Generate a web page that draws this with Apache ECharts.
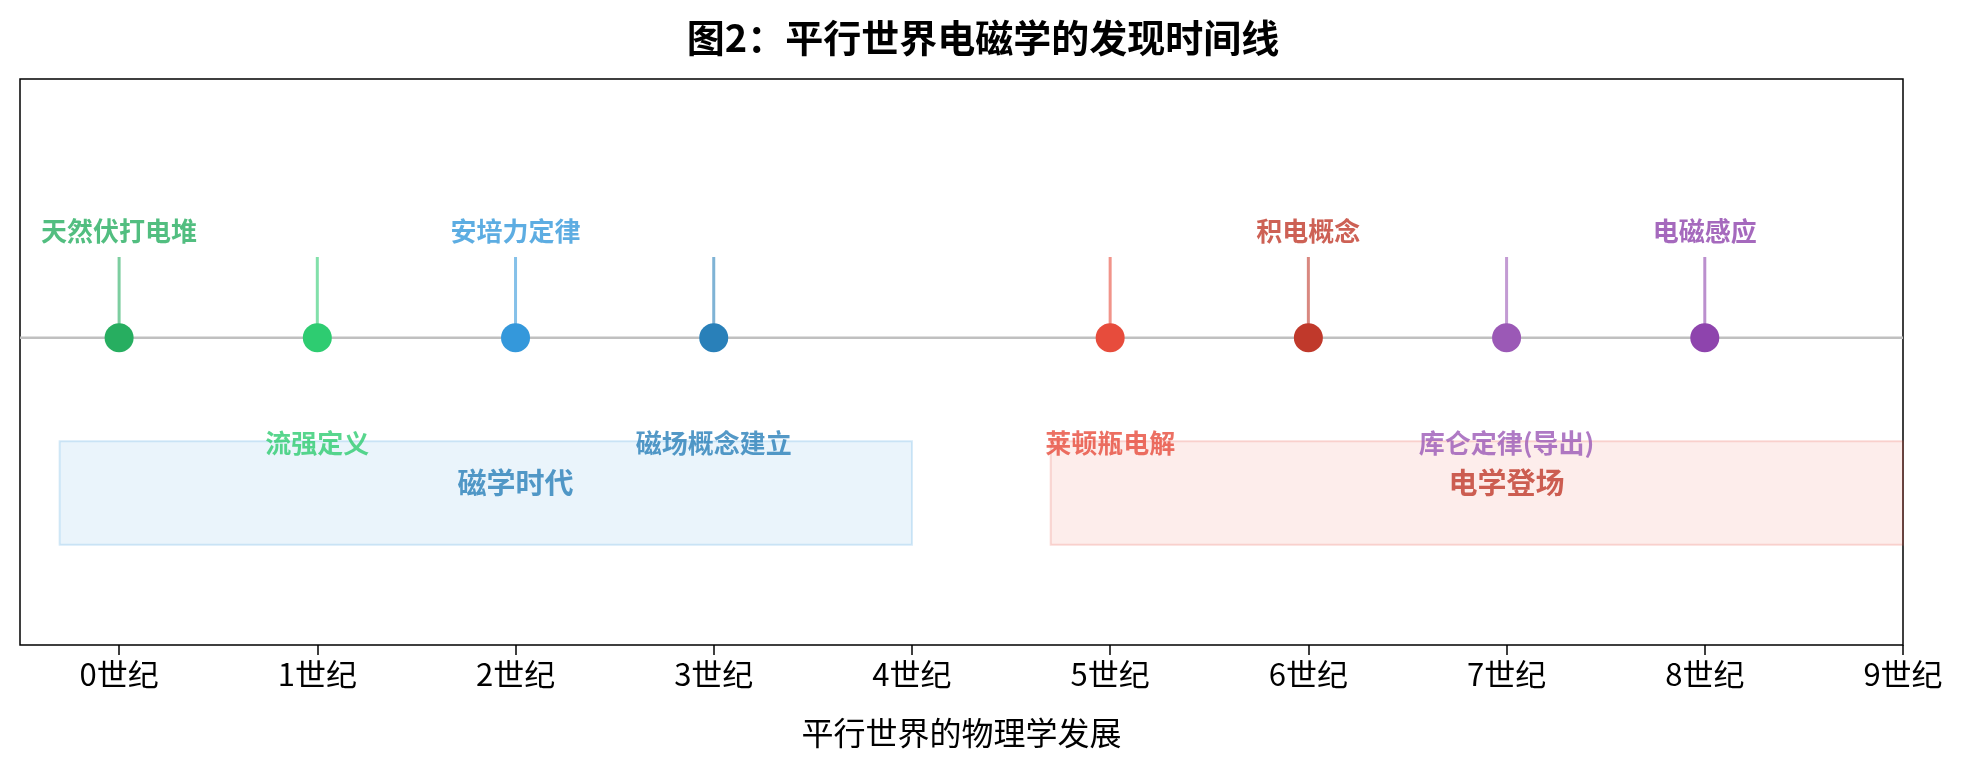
<!DOCTYPE html>
<html><head><meta charset="utf-8">
<script src="https://cdn.jsdelivr.net/npm/echarts@6/dist/echarts.min.js"></script>
<style>html,body{margin:0;background:#fff}#c{width:1966px;height:764px}</style>
</head><body><div id="c"></div>
<script>
const eventX = [0, 1, 2, 3, 5, 6, 7, 8];
const eventNames = ['天然伏打电堆', '流强定义', '安培力定律', '磁场概念建立', '莱顿瓶电解', '积电概念', '库仑定律(导出)', '电磁感应'];
const eventColors = ['#27ae60', '#2ecc71', '#3498db', '#2980b9', '#e74c3c', '#c0392b', '#9b59b6', '#8e44ad'];
const labelUp = [true, false, true, false, false, true, false, true];
const tickValues = [0, 1, 2, 3, 4, 5, 6, 7, 8, 9];
const eras = [
  { name: '磁学时代', from: -0.3, to: 4.0, fill: 'rgba(52,152,219,0.1)', border: 'rgba(52,152,219,0.2)', text: '#2980b9' },
  { name: '电学登场', from: 4.7, to: 9.0, fill: 'rgba(231,76,60,0.1)', border: 'rgba(231,76,60,0.2)', text: '#c0392b' }
];
const stemTop = 0.5, labelUpY = 0.66, labelDownY = -0.65, eraTop = -0.64, eraBottom = -1.28, eraLabelY = -0.9;

const font = '"Noto Sans CJK SC", "Noto Sans", sans-serif';
const chart = echarts.init(document.getElementById('c'));
chart.setOption({
  animation: false,
  title: { text: '图2：平行世界电磁学的发现时间线', left: 'center', top: 14,
    textStyle: { fontFamily: font, fontSize: 38, fontWeight: 'bold', color: '#000' } },
  grid: { left: 20, right: 63, top: 79, bottom: 119, show: true, borderColor: '#000', borderWidth: 1.5 },
  xAxis: { type: 'value', min: -0.5, max: 9, interval: 1,
    name: '平行世界的物理学发展', nameLocation: 'middle', nameGap: 72,
    nameTextStyle: { fontFamily: font, fontSize: 32, color: '#000' },
    axisLine: { show: false, onZero: false }, splitLine: { show: false },
    axisTick: { show: true, inside: false, length: 10, lineStyle: { color: '#000', width: 1.5 },
      customValues: tickValues },
    axisLabel: { fontFamily: font, fontSize: 31, color: '#000', margin: 14,
      customValues: tickValues, formatter: v => v + '世纪' } },
  yAxis: { type: 'value', min: -1.9, max: 1.6, show: false },
  series: [
    { type: 'line', data: [[-0.5, 0], [9, 0]], symbol: 'none', silent: true,
      lineStyle: { color: '#c0c0c0', width: 2.5 }, z: 1,
      markArea: { silent: true, data: eras.map(e => [
        { xAxis: e.from, yAxis: eraTop, itemStyle: { color: e.fill, borderColor: e.border, borderWidth: 2 } },
        { xAxis: e.to, yAxis: eraBottom }]) } },
    ...eventX.map((x, i) => ({ type: 'line', data: [[x, 0], [x, stemTop]], symbol: 'none', silent: true,
      lineStyle: { color: eventColors[i], width: 3, opacity: 0.6 }, z: 2 })),
    { type: 'scatter', symbolSize: 29, z: 5,
      data: eventX.map((x, i) => ({ value: [x, 0], itemStyle: { color: eventColors[i], opacity: 1 } })) },
    { type: 'scatter', symbolSize: 0, z: 6,
      data: eventX.map((x, i) => ({ value: [x, labelUp[i] ? labelUpY : labelDownY],
        label: { show: true, position: 'inside', formatter: eventNames[i], color: eventColors[i],
          fontFamily: font, fontSize: 26, fontWeight: 'bold' } })) },
    { type: 'scatter', symbolSize: 0, z: 6,
      data: eras.map(e => ({ value: [(e.from < 0 ? 2 : 7), eraLabelY],
        label: { show: true, position: 'inside', formatter: e.name, color: e.text,
          fontFamily: font, fontSize: 29, fontWeight: 'bold' } })) }
  ]
});
</script></body></html>
